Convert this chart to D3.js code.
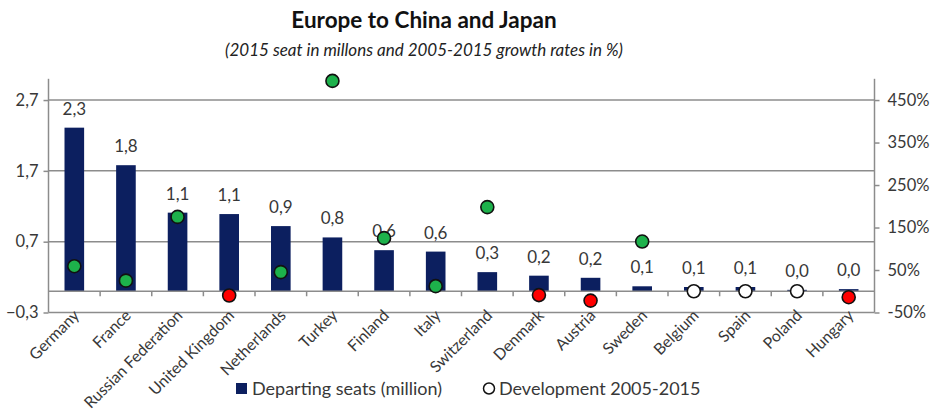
<!DOCTYPE html>
<html>
<head>
<meta charset="utf-8">
<script src="https://cdn.jsdelivr.net/npm/d3@7.9.0/dist/d3.min.js"></script>
<style>
  body { margin: 0; background: #fff; }
  svg { display: block; font-family: Lato, "Open Sans", sans-serif; }
</style>
</head>
<body>
<svg id="chart" width="940" height="413"></svg>
<script>
const countries = ['Germany', 'France', 'Russian Federation', 'United Kingdom', 'Netherlands',
  'Turkey', 'Finland', 'Italy', 'Switzerland', 'Denmark', 'Austria', 'Sweden',
  'Belgium', 'Spain', 'Poland', 'Hungary'];
const seats = [2.31, 1.78, 1.11, 1.09, 0.92, 0.76, 0.58, 0.56, 0.27, 0.22, 0.19, 0.07,
  0.06, 0.06, 0.02, 0.03];
const growth = [59, 25, 175, -10, 45, 495, 125, 12, 198, -9, -22, 117, 0, 0, 0, -14];
const leftTicks = [-0.3, 0.7, 1.7, 2.7];
const rightTicks = [-50, 50, 150, 250, 350, 450];

const svg = d3.select('#chart');
const textColor = '#383838';
const gridColor = '#8c8c8c';

const x = d3.scaleBand().domain(countries).range([48.5, 874.5])
  .paddingInner(0.62).paddingOuter(0.31);
const yL = d3.scaleLinear().domain([-0.3, 3.0]).range([312.5, 78.8]);
const yR = d3.scaleLinear().domain([-50, 500]).range([312.5, 78.8]);
const comma = v => d3.format('.1f')(v).replace('.', ',');

// title
svg.append('text').attr('x', 424).attr('y', 28).attr('text-anchor', 'middle')
  .attr('font-size', 22.5).attr('font-weight', 'bold').attr('fill', '#111')
  .text('Europe to China and Japan');
svg.append('text').attr('x', 424).attr('y', 56).attr('text-anchor', 'middle')
  .attr('font-size', 17).attr('font-style', 'italic').attr('fill', '#222')
  .text('(2015 seat in millons and 2005-2015 growth rates in %)');

// gridlines
svg.append('g').selectAll('line').data(leftTicks).join('line')
  .attr('x1', 48.5).attr('x2', 874.5)
  .attr('y1', d => yL(d)).attr('y2', d => yL(d))
  .attr('stroke', gridColor).attr('stroke-width', 1.5);

// left axis
const axL = svg.append('g').attr('transform', 'translate(48.5,0)')
  .call(d3.axisLeft(yL).tickValues(leftTicks).tickSize(5).tickPadding(5).tickFormat(comma));
axL.select('.domain').attr('stroke', gridColor).attr('stroke-width', 1.5).attr('d', `M0,${yL(3)}V${yL(-0.3)}`);
axL.selectAll('.tick line').attr('stroke', gridColor).attr('stroke-width', 1.5);
axL.selectAll('.tick text').attr('font-size', 16.5).attr('fill', textColor)
  .attr('font-family', 'Lato, sans-serif');

// right axis
const axR = svg.append('g').attr('transform', 'translate(874.5,0)')
  .call(d3.axisRight(yR).tickValues(rightTicks).tickSize(5).tickPadding(8).tickFormat(d => d + '%'));
axR.select('.domain').attr('stroke', gridColor).attr('stroke-width', 1.5).attr('d', `M0,${yR(500)}V${yR(-50)}`);
axR.selectAll('.tick line').attr('stroke', gridColor).attr('stroke-width', 1.5);
axR.selectAll('.tick text').attr('font-size', 16.5).attr('fill', textColor)
  .attr('font-family', 'Lato, sans-serif');

// bars
svg.append('g').selectAll('rect').data(countries).join('rect')
  .attr('x', d => x(d)).attr('width', x.bandwidth())
  .attr('y', (d, i) => yL(seats[i])).attr('height', (d, i) => yL(0) - yL(seats[i]))
  .attr('fill', '#0c1f5f');

// category axis at zero
const step = x.step();
svg.append('line').attr('x1', 48.5).attr('x2', 874.5)
  .attr('y1', yL(0)).attr('y2', yL(0)).attr('stroke', gridColor).attr('stroke-width', 1.5);
svg.append('g').selectAll('line').data(countries.slice(1)).join('line')
  .attr('x1', d => x(d) - (step - x.bandwidth()) / 2).attr('x2', d => x(d) - (step - x.bandwidth()) / 2)
  .attr('y1', yL(0)).attr('y2', yL(0) + 5)
  .attr('stroke', gridColor).attr('stroke-width', 1.5);

// bar labels
svg.append('g').selectAll('text').data(countries).join('text')
  .attr('x', d => x(d) + x.bandwidth() / 2)
  .attr('y', (d, i) => yL(seats[i]) - 13)
  .attr('text-anchor', 'middle').attr('font-size', 17).attr('fill', textColor)
  .text((d, i) => comma(seats[i]));

// growth dots
svg.append('g').selectAll('circle').data(countries).join('circle')
  .attr('cx', d => x(d) + x.bandwidth() / 2)
  .attr('cy', (d, i) => yR(growth[i]))
  .attr('r', 6.5)
  .attr('fill', (d, i) => growth[i] > 0 ? '#1db14b' : growth[i] < 0 ? '#ff0000' : '#ffffff')
  .attr('stroke', '#111').attr('stroke-width', 1.6);

// x labels
svg.append('g').selectAll('text').data(countries).join('text')
  .attr('transform', d => `translate(${x(d) + x.bandwidth() / 2 + 6},${yL(-0.3) + 4}) rotate(-45)`)
  .attr('text-anchor', 'end').attr('font-size', 15.8).attr('fill', textColor)
  .text(d => d);

// legend
const lg = svg.append('g');
lg.append('rect').attr('x', 236).attr('y', 383).attr('width', 11).attr('height', 11).attr('fill', '#0c1f5f');
lg.append('text').attr('x', 252).attr('y', 395).attr('font-size', 18).attr('fill', textColor)
  .text('Departing seats (million)');
lg.append('circle').attr('cx', 489).attr('cy', 388.5).attr('r', 5.5)
  .attr('fill', '#fff').attr('stroke', '#111').attr('stroke-width', 1.5);
lg.append('text').attr('x', 499).attr('y', 395).attr('font-size', 18).attr('fill', textColor)
  .text('Development 2005-2015');
</script>
</body>
</html>
